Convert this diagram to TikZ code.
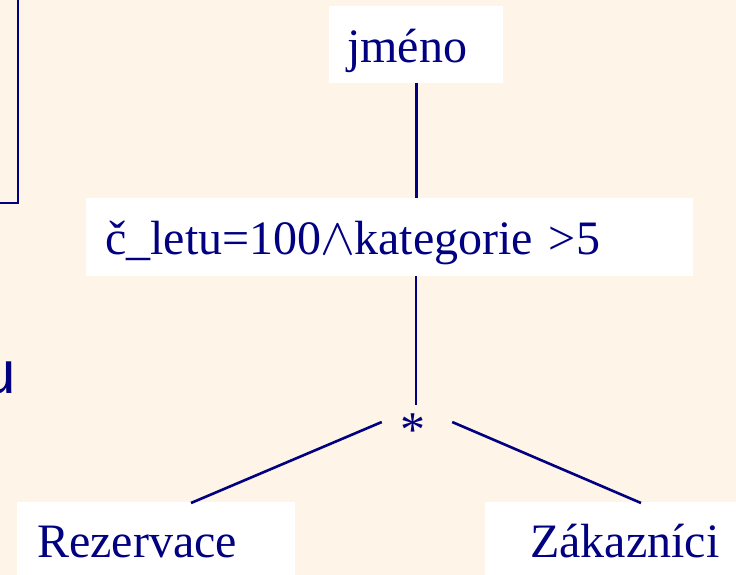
\documentclass[tikz,border=0pt]{standalone}
\usepackage{fontspec}
\setmainfont{Liberation Serif}
\newfontfamily\arialfont{Liberation Sans}
\usetikzlibrary{calc}
\definecolor{bgcream}{RGB}{254,244,232}
\definecolor{navyink}{RGB}{0,0,128}
\tikzset{
  box/.style={fill=white, draw=none, anchor=north west, inner ysep=0pt, align=left,
    text=navyink, font=\fontsize{48}{58}\selectfont},
  link/.style={draw=navyink, line width=2.6pt},
}
\begin{document}
\begin{tikzpicture}[x=1pt, y=-1pt]
\useasboundingbox (0,0) rectangle (736,575);
\clip (0,0) rectangle (736,575);
\fill[bgcream] (0,0) rectangle (736,575);
% partial frame at top left
\draw[navyink, line width=2.8pt] (18,-5) -- (18,203) -- (-5,203);
% cut-off letter
\node[anchor=base east, inner sep=0pt, text=navyink, font=\arialfont\fontsize{60}{70}\selectfont] (ucut) at (16,393) {u};
% boxes
\node[box, inner xsep=18pt, text width=138pt, text height=56pt, text depth=21pt] (jmeno) at (329,6) {jméno};
\node[box, inner xsep=19pt, text width=569pt, text height=56pt, text depth=22pt] (cond) at (86,198) {č\_letu=100\kern-1pt\scalebox{2.1}{$\wedge$}\kern-1pt kategorie >5};
\node[box, inner xsep=20pt, text width=238pt, text height=55pt, text depth=30pt] (rez) at (17,502) {Rezervace};
\node[box, inner xsep=45pt, text width=200pt, text height=55pt, text depth=30pt] (zak) at (485,502) {Zákazníci};
\node[inner sep=0pt, minimum width=72pt, text height=46pt, text depth=0pt, text=navyink, font=\fontsize{50}{60}\selectfont] (star) at (416,423) {\hbox{\kern-3pt*\kern3pt}};
% connectors
\draw[link] (jmeno.south) -- (jmeno.south |- cond.north);
\draw[link] (cond.south -| star.north) -- ($(star.center)+(0,-18)$);
\draw[link] ($(star.west)+(2,-1)$) -- ($(rez.north west)+(174,1)$);
\draw[link] ($(star.east)+(0,-1)$) -- ($(zak.north west)+(156,1)$);
\end{tikzpicture}
\end{document}
